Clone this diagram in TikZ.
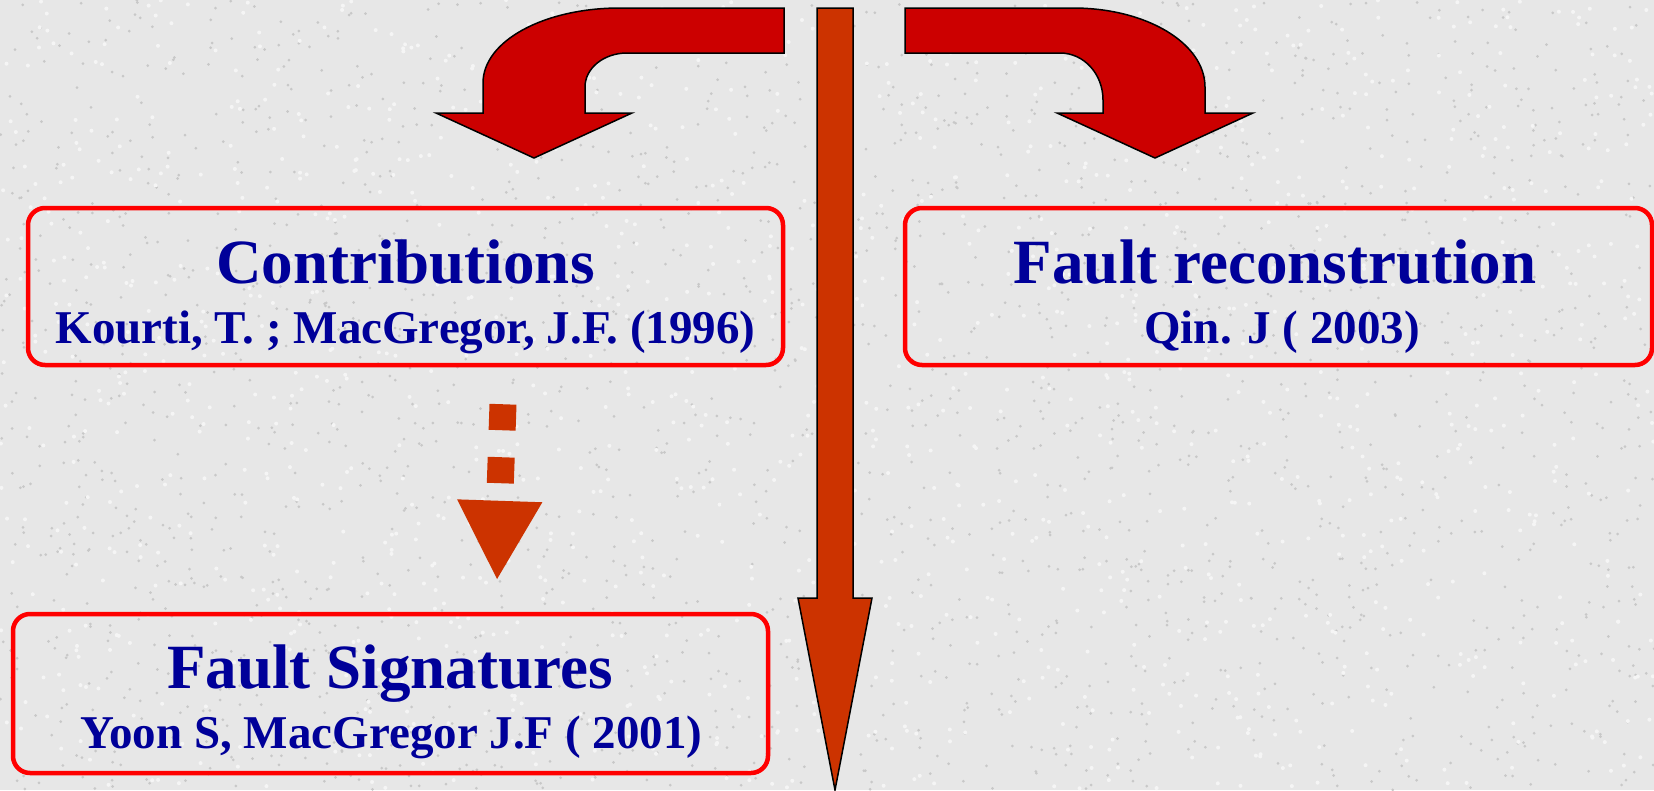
\documentclass[tikz,border=0pt]{standalone}
\usepackage{fontspec}
\setmainfont{Liberation Serif}
\usetikzlibrary{arrows.meta,calc}

\definecolor{inkblue}{RGB}{0,0,153}
\definecolor{boxred}{RGB}{255,0,0}
\definecolor{bendred}{RGB}{204,0,0}
\definecolor{rust}{RGB}{204,51,0}
\definecolor{paper}{RGB}{231,231,231}
\definecolor{speck}{RGB}{200,200,200}
\definecolor{gleam}{RGB}{245,245,245}

\begin{document}
\begin{tikzpicture}[x=1pt,y=-1pt,
  panel/.style={draw=boxred, line width=4.5pt, rounded corners=17pt, inner sep=0pt},
  headline/.style={text=inkblue, font=\bfseries\fontsize{63}{70}\selectfont, anchor=base, inner sep=0pt},
  cite/.style={text=inkblue, font=\bfseries\fontsize{47}{54}\selectfont, anchor=base, inner sep=0pt},
  bent/.style={fill=bendred, draw=black, line width=1.5pt, line join=miter},
  trunk/.style={fill=rust, draw=black, line width=1.5pt, line join=miter},
  dashlink/.style={draw=rust, line width=27pt, line cap=butt,
    dash pattern=on 26pt off 27pt, -{Triangle[length=80pt,width=79pt]}}
]
% canvas and granite-like paper
\useasboundingbox (0,0) rectangle (1654,790);
\fill[paper] (0,0) rectangle (1654,790);
\pgfmathsetseed{42}
\foreach \k in {1,...,2200}{
  \pgfmathsetmacro\px{rnd*1654}
  \pgfmathsetmacro\py{rnd*790}
  \fill[speck] (\px,\py) circle (1.5pt);
}
\foreach \k in {1,...,1400}{
  \pgfmathsetmacro\px{rnd*1654}
  \pgfmathsetmacro\py{rnd*790}
  \fill[gleam] (\px,\py) circle (2pt);
}

% boxes
\node[panel, minimum width=755pt, minimum height=157pt] (contrib) at (405.5,286.5) {};
\node[headline] (contribT) at (405.5,283) {Contributions};
\node[cite] (contribC) at (405.5,343) {Kourti, T. ; MacGregor, J.F. (1996)};

\node[panel, minimum width=747pt, minimum height=157pt] (recon) at (1278.5,286.5) {};
\node[headline] (reconT) at (1275,283) {Fault reconstrution};
\node[cite] (reconC) at (1282,343) {Qin. J ( 2003)};

\node[panel, minimum width=755pt, minimum height=159pt] (sig) at (390.5,693.5) {};
\node[headline] (sigT) at (390,688) {Fault Signatures};
\node[cite] (sigC) at (391.5,748) {Yoon S, MacGregor J.F ( 2001)};

% bent arrows at the top
\draw[bent] (784,8) -- (620,8) .. controls (544,8) and (483,41) .. (483,83)
  -- (483,113) -- (436,113) -- (534,158) -- (632,113) -- (585,113) -- (585,87)
  .. controls (585,68) and (604,53) .. (627,53) -- (784,53) -- cycle;
\draw[bent] (905,8) -- (1073,8) .. controls (1146,8) and (1205,43) .. (1205,87)
  -- (1205,113) -- (1253,113) -- (1155,158) -- (1057,113) -- (1103,113) -- (1103,100)
  .. controls (1103,74) and (1084,53) .. (1060,53) -- (905,53) -- cycle;

% long vertical arrow
\draw[trunk] (817,8) -- (853,8) -- (853,598) -- (872,598) -- (835,790)
  -- (798,598) -- (817,598) -- cycle;

% dashed link between the two left boxes
\coordinate (dtop) at ($(contrib.south)+(97.5,37)$);
\coordinate (dtip) at ($(sig.north)+(106.5,-31)$);
\draw[dashlink] (dtop) -- (dtip);
\end{tikzpicture}
\end{document}
